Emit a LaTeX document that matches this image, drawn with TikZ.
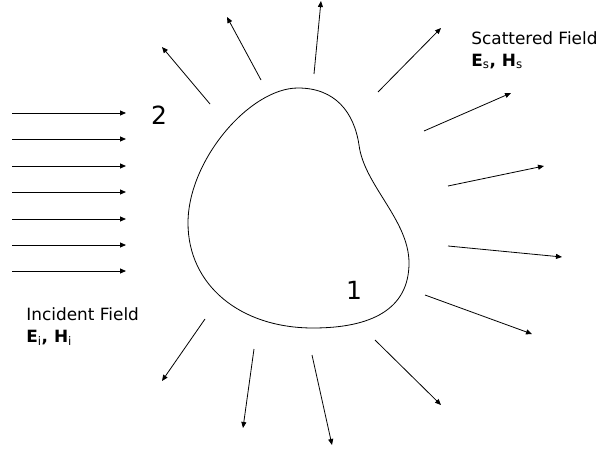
\documentclass[tikz,border=0pt]{standalone}
\usepackage{fontspec}
\setmainfont{DejaVu Sans}
\usetikzlibrary{arrows.meta}

\tikzset{
    fieldlabel/.style={anchor=north west, align=left, inner sep=0pt,
        font=\fontsize{16.9}{22}\selectfont},
    regionlabel/.style={inner sep=0pt, font=\fontsize{25}{30}\selectfont},
}

\begin{document}
\begin{tikzpicture}[x=1pt, y=-1pt, >={Triangle[length=6pt,width=5pt]}, line width=0.8pt]
    \useasboundingbox (0,0) rectangle (599,449);

    % scatterer
    \draw (298,88) .. controls (335,88) and (354,112) .. (359,145)
        .. controls (364,185) and (409,220) .. (409,263)
        .. controls (409,310) and (370,328) .. (313,328)
        .. controls (240,328) and (188,285) .. (188,223)
        .. controls (188,160) and (250,88) .. cycle;

    % incident field
    \draw[->] (12,113) -- (126,113);
    \draw[->] (12,139) -- (126,139);
    \draw[->] (12,166) -- (126,166);
    \draw[->] (12,192) -- (126,192);
    \draw[->] (12,219) -- (126,219);
    \draw[->] (12,245) -- (126,245);
    \draw[->] (12,271) -- (126,271);

    % scattered field
    \draw[->] (210,104) -- (162,47);
    \draw[->] (261,80) -- (227,17);
    \draw[->] (314,74) -- (321,1);
    \draw[->] (378,92) -- (441,28);
    \draw[->] (424,131) -- (511,93);
    \draw[->] (448,186) -- (544,166);
    \draw[->] (448,246) -- (562,257);
    \draw[->] (425,295) -- (532,334);
    \draw[->] (205,319) -- (162,381);
    \draw[->] (254,349) -- (243,428);
    \draw[->] (312,355) -- (332,445);
    \draw[->] (375,340) -- (441,405);

    \node[regionlabel] (inside) at (354,290) {1};
    \node[regionlabel] (outside) at (159,115) {2};

    \node[fieldlabel] (scat) at (471,31)
        {Scattered Field\\\textbf{E}\textsubscript{s}\textbf{, H}\textsubscript{s}};
    \node[fieldlabel] (inc) at (26,307)
        {Incident Field\\\textbf{E}\textsubscript{i}\textbf{, H}\textsubscript{i}};
\end{tikzpicture}
\end{document}
